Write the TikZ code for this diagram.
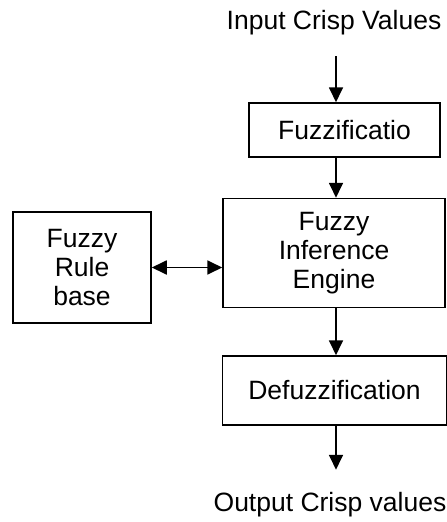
\documentclass[tikz,border=0pt]{standalone}
\usepackage{fontspec}
\setmainfont{Liberation Sans}
\usetikzlibrary{arrows.meta,positioning}

\begin{document}
\begin{tikzpicture}[x=1pt,y=-1pt,->,>={Triangle[length=15pt,width=14pt]},line width=1.8pt,
                    font=\fontsize{26.5}{29}\selectfont]
  \tikzstyle{block}=[rectangle,draw=black,fill=white,line width=1.5pt,align=center,inner sep=0pt]
  \tikzstyle{label}=[inner sep=0pt,align=center]

  \useasboundingbox (0,0) rectangle (447,522);

  \node[label] (input)   at (334,23)    {Input Crisp Values};
  \node[block,minimum width=191pt,minimum height=54pt] (fuzz)   at (344.5,130) {Fuzzificatio};
  \node[block,minimum width=222pt,minimum height=109pt] (engine) at (334,253) {Fuzzy\\Inference\\Engine};
  \node[block,minimum width=138pt,minimum height=111pt] (rule)   at (82,267.5)  {Fuzzy\\Rule\\base};
  \node[block,minimum width=224pt,minimum height=69pt] (defuzz) at (334.5,390.5) {Defuzzification};
  \node[label] (output)  at (330,505)   {Output Crisp values};

  \coordinate (axis) at (336,0);

  \path (input.south -| axis) edge [shorten <=20pt] (fuzz.north -| axis)
        (fuzz.south -| axis)  edge [] (engine.north -| axis)
        (engine.south -| axis) edge [] (defuzz.north -| axis)
        (defuzz.south -| axis) edge [shorten >=22pt] (output.north -| axis)
        (rule.east) edge [<->] (rule.east -| engine.west);
\end{tikzpicture}
\end{document}
